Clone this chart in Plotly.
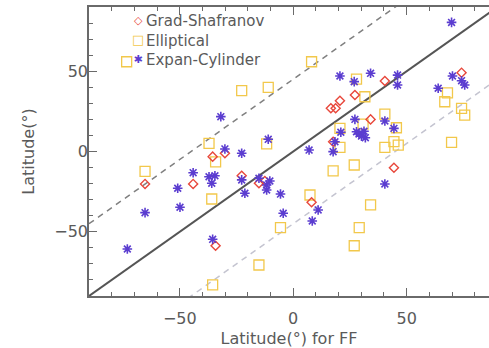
import plotly.graph_objects as go

# ---- data (degrees) ----
gs_x = [-65.3, -44.1, -35.5, -30.1, -22.7, -15.1, -12.5, -34.2, 16.6, 18.7, 20.6, 27.2, 40.4, 34.1, 17.6, 44.4, 8.1, 74.2]
gs_y = [-20.2, -20.2, -3.2, -1.1, -15.1, -19.8, -18.4, -58.7, 26.9, 26.9, 31.6, 35.2, 43.9, 20.0, 6.1, -10.1, -31.6, 49.1]

el_x = [-73.4, -22.7, -11.0, -37.1, -34.2, -11.7, -65.3, -35.9, -5.6, -15.1, -35.5, 8.1, 27.9, 31.6, 68.0, 66.8,
        74.2, 75.6, 40.4, 30.8, 45.5, 20.6, 20.6, 40.4, 44.4, 46.3, 17.6, 26.9, 7.4, 34.1, 69.8, 29.1, 26.9]
el_y = [55.9, 37.9, 40.0, 5.1, -6.4, 4.7, -12.4, -29.6, -47.4, -70.7, -83.1, 55.9, 45.1, 34.1, 36.5, 31.0,
        26.9, 22.7, 23.3, 17.1, 14.8, 14.4, 2.6, 2.6, 6.1, 4.0, -12.1, -8.4, -27.1, -33.3, 5.7, -47.4, -58.7]

ec_x = [-31.9, -30.1, -22.7, -11.0, -44.1, -50.9, -37.1, -34.5, -35.9, -65.3, -49.9, -22.7, -21.3, -15.1, -11.7,
        -11.7, -10.3, -5.6, -4.4, -73.1, -35.5, 20.6, 26.9, 34.1, 46.0, 46.0, 63.9, 69.8, 70.2, 74.2, 75.6,
        27.2, 40.4, 44.4, 21.0, 27.9, 29.0, 30.1, 31.2, 31.8, 18.4, 17.6, 7.0, 40.4, 11.0, 8.4]
ec_y = [21.7, 1.6, -1.1, 7.6, -13.2, -22.9, -15.7, -15.1, -19.8, -38.1, -34.7, -17.7, -26.0, -16.7, -20.9,
        -24.0, -18.4, -26.5, -38.5, -60.7, -54.7, 47.0, 43.5, 48.7, 47.6, 41.4, 39.4, 80.4, 47.0, 44.1, 41.4,
        20.0, 19.0, 14.4, 12.0, 12.3, 10.9, 9.6, 12.6, 8.6, 6.1, -0.1, 0.9, -20.2, -36.4, -43.3]

names = ["Grad-Shafranov", "Elliptical", "Expan-Cylinder"]
colors = ["#e8483c", "#f2c84b", "#5b3dd0"]

ref_x = [-90, 90]          # reference lines y = x + offset
offsets = [0, 45, -45]

TXT = "#5a5a5a"
FONT = "DejaVu Sans"

fig = go.Figure()

# reference lines
fig.add_trace(go.Scatter(x=ref_x, y=[v + offsets[0] for v in ref_x], mode="lines",
                         line=dict(color="#555555", width=2), showlegend=False, hoverinfo="skip"))
fig.add_trace(go.Scatter(x=ref_x, y=[v + offsets[1] for v in ref_x], mode="lines",
                         line=dict(color="#808080", width=1.5, dash="6px,5px"), showlegend=False, hoverinfo="skip"))
fig.add_trace(go.Scatter(x=ref_x, y=[v + offsets[2] for v in ref_x], mode="lines",
                         line=dict(color="#c4c4d0", width=1.5, dash="6px,5px"), showlegend=False, hoverinfo="skip"))

fig.add_trace(go.Scatter(x=el_x, y=el_y, mode="markers", name=names[1], showlegend=False,
                         marker=dict(symbol="square-open", size=10, color=colors[1], line=dict(width=1.3))))
fig.add_trace(go.Scatter(x=gs_x, y=gs_y, mode="markers", name=names[0], showlegend=False,
                         marker=dict(symbol="diamond-open", size=7, color=colors[0], line=dict(width=1.4))))
fig.add_trace(go.Scatter(x=ec_x, y=ec_y, mode="markers", name=names[2], showlegend=False,
                         marker=dict(symbol="asterisk-open", size=8, color=colors[2], line=dict(width=1.6))))

# legend (drawn as text blocks: symbol column + name column)
glyphs = ["◇", "□", "✱"]
glyph_sizes = [11, 13, 11]
sym_text = "<br>".join(f'<span style="color:{c};font-size:{s}px">{g}</span>'
                       for g, s, c in zip(glyphs, glyph_sizes, colors))
fig.add_annotation(xref="paper", yref="paper", x=0.1225, y=0.885, text=sym_text, showarrow=False,
                   xanchor="center", yanchor="middle", align="center",
                   font=dict(family=FONT, size=15, color=TXT))
fig.add_annotation(xref="paper", yref="paper", x=0.138, y=0.885, text="<br>".join(names), showarrow=False,
                   xanchor="left", yanchor="middle", align="left",
                   font=dict(family=FONT, size=15, color=TXT))

axis_common = dict(
    showgrid=False, zeroline=False, showline=True, linecolor="#6a6a6a", linewidth=1.5,
    ticks="inside", ticklen=8, tickwidth=1.2, tickcolor="#6a6a6a", automargin=False,
    tickfont=dict(family=FONT, size=16, color=TXT),
    minor=dict(ticks="inside", ticklen=4, dtick=10, tickcolor="#6a6a6a", tickwidth=1.2),
)

fig.update_layout(
    width=489, height=348,
    margin=dict(l=89, r=0, t=7, b=52),
    plot_bgcolor="white", paper_bgcolor="white",
    showlegend=False,
    xaxis=dict(range=[-90, 86.3], tickvals=[-50, 0, 50], mirror="allticks", ticklabelstandoff=7,
               title=dict(text="Latitude(°) for FF", font=dict(family=FONT, size=16, color=TXT), standoff=12),
               **axis_common),
    yaxis=dict(range=[-90, 90], tickvals=[-50, 0, 50], mirror=False, ticklabelstandoff=-4,
               title=dict(text="Latitude(°)", font=dict(family=FONT, size=16, color=TXT), standoff=16),
               **axis_common),
)

fig.write_html("out.html", config={"displayModeBar": False},
               post_script="document.body.style.margin='0';")
